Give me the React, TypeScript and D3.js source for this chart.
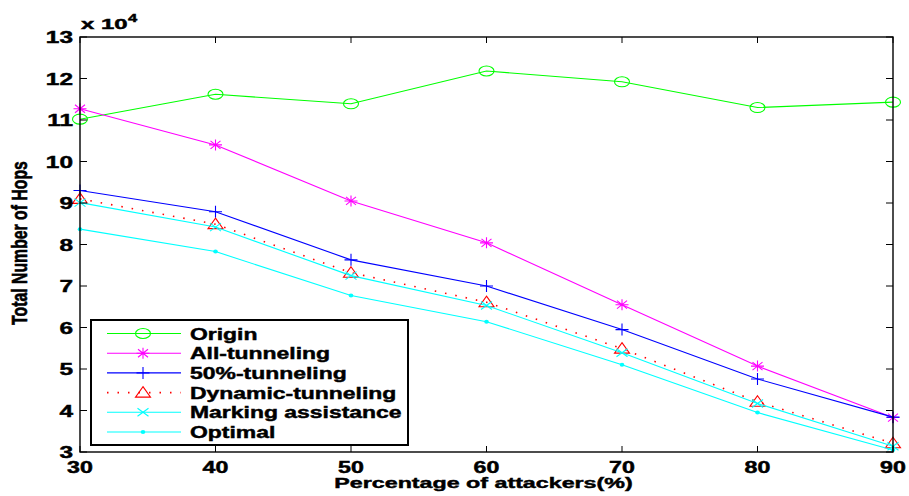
import React from "react";
import * as d3 from "d3";

// Percentage of attackers (x) and total hop counts per scheme
const attackers = [30, 40, 50, 60, 70, 80, 90];
const origin = [110200, 116200, 113900, 121800, 119200, 113000, 114300];
const allTunneling = [112700, 104000, 90500, 80400, 65500, 50700, 38300];
const halfTunneling = [93000, 87900, 76300, 70000, 59500, 47600, 38400];
const dynamicTunneling = [91000, 84900, 73200, 66100, 54900, 42100, 32100];
const markingAssistance = [90100, 84200, 72500, 65300, 53900, 41700, 31400];
const optimal = [83700, 78300, 67700, 61400, 51000, 39500, 30500];

const xTicks = [30, 40, 50, 60, 70, 80, 90];
const yTicks = [30000, 40000, 50000, 60000, 70000, 80000, 90000, 100000, 110000, 120000, 130000];

const seriesNames = ["Origin", "All-tunneling", "50%-tunneling", "Dynamic-tunneling", "Marking assistance", "Optimal"];
const seriesValues = [origin, allTunneling, halfTunneling, dynamicTunneling, markingAssistance, optimal];
const seriesColors = ["#00ff00", "#ff00ff", "#0000ff", "#ff0000", "#00ffff", "#00ffff"];
const seriesMarkers = ["circle", "star", "plus", "triangle", "cross", "dot"];
const seriesDash = ["", "", "", "1.5 9", "", ""];

const W = 909;
const H = 496;
const plot = { left: 80, right: 893, top: 37, bottom: 452 };
const FONT = "'Liberation Sans', Arial, Helvetica, sans-serif";

const x = d3.scaleLinear().domain([30, 90]).range([plot.left, plot.right]);
const y = d3.scaleLinear().domain([30000, 130000]).range([plot.bottom, plot.top]);

function Marker({ kind, cx, cy, color }: { kind: string; cx: number; cy: number; color: string }) {
  const common = { stroke: color, strokeWidth: 1.1, fill: "none" };
  switch (kind) {
    case "circle":
      return <ellipse cx={cx} cy={cy} rx={7.5} ry={5} {...common} />;
    case "star":
      return (
        <path
          d={`M${cx - 6.5},${cy}H${cx + 6.5}M${cx},${cy - 5.5}V${cy + 5.5}M${cx - 5},${cy - 4}L${cx + 5},${cy + 4}M${cx - 5},${cy + 4}L${cx + 5},${cy - 4}`}
          {...common}
        />
      );
    case "plus":
      return <path d={`M${cx - 6.5},${cy}H${cx + 6.5}M${cx},${cy - 6}V${cy + 6}`} {...common} />;
    case "triangle":
      return <path d={`M${cx},${cy - 6}L${cx + 7.5},${cy + 4.5}L${cx - 7.5},${cy + 4.5}Z`} {...common} />;
    case "cross":
      return <path d={`M${cx - 5.5},${cy - 4}L${cx + 5.5},${cy + 4}M${cx - 5.5},${cy + 4}L${cx + 5.5},${cy - 4}`} {...common} />;
    case "dot":
      return <ellipse cx={cx} cy={cy} rx={2.3} ry={2} fill={color} stroke="none" />;
    default:
      return null;
  }
}

function SText({
  x: tx,
  y: ty,
  sx,
  size,
  anchor = "start",
  rotate = 0,
  children,
}: {
  x: number;
  y: number;
  sx: number;
  size: number;
  anchor?: string;
  rotate?: number;
  children: React.ReactNode;
}) {
  return (
    <text
      transform={`translate(${tx},${ty}) scale(${sx},1) rotate(${rotate})`}
      fontSize={size}
      fontWeight="bold"
      fontFamily={FONT}
      textAnchor={anchor}
      fill="#000"
      stroke="#000"
      strokeWidth={0.45}
    >
      {children}
    </text>
  );
}

export default function App() {
  const line = d3
    .line<number>()
    .x((_, i) => x(attackers[i]))
    .y((d) => y(d));

  const legend = { left: 91, top: 320, right: 408, bottom: 445 };
  const rowY = (i: number) => 333.5 + i * 19.7;

  return (
    <svg width={W} height={H} style={{ position: "absolute", left: 0, top: 0, background: "#fff" }}>
      <rect x={0} y={0} width={W} height={H} fill="#fff" />

      {/* series lines and markers */}
      {seriesValues.map((vals, s) => (
        <g key={seriesNames[s]}>
          <path
            d={line(vals) || ""}
            fill="none"
            stroke={seriesColors[s]}
            strokeWidth={s === 3 ? 1.6 : 1.1}
            strokeDasharray={seriesDash[s] || undefined}
          />
          {vals.map((v, i) => (
            <Marker key={i} kind={seriesMarkers[s]} cx={x(attackers[i])} cy={y(v)} color={seriesColors[s]} />
          ))}
        </g>
      ))}

      {/* axes box */}
      <rect
        x={plot.left}
        y={plot.top}
        width={plot.right - plot.left}
        height={plot.bottom - plot.top}
        fill="none"
        stroke="#000"
        strokeWidth={1.4}
      />
      {xTicks.map((t) => (
        <g key={`xt${t}`}>
          <line x1={x(t)} x2={x(t)} y1={plot.bottom} y2={plot.bottom - 6} stroke="#000" strokeWidth={1} />
          <line x1={x(t)} x2={x(t)} y1={plot.top} y2={plot.top + 6} stroke="#000" strokeWidth={1} />
          <SText x={x(t)} y={473} sx={1.45} size={16} anchor="middle">
            {t}
          </SText>
        </g>
      ))}
      {yTicks.map((t) => (
        <g key={`yt${t}`}>
          <line x1={plot.left} x2={plot.left + 7} y1={y(t)} y2={y(t)} stroke="#000" strokeWidth={1} />
          <line x1={plot.right} x2={plot.right - 7} y1={y(t)} y2={y(t)} stroke="#000" strokeWidth={1} />
          <SText x={73} y={y(t) + 6} sx={1.48} size={16.5} anchor="end">
            {t / 10000}
          </SText>
        </g>
      ))}

      {/* exponent label */}
      <SText x={81} y={29} sx={1.65} size={14.5}>
        x 10
      </SText>
      <SText x={128} y={22} sx={1.5} size={11}>
        4
      </SText>

      {/* axis titles */}
      <SText x={(plot.left + plot.right) / 2 - 3} y={488} sx={1.5} size={15.5} anchor="middle">
        Percentage of attackers(%)
      </SText>
      <SText x={27} y={243} sx={1.4} size={15.8} anchor="middle" rotate={-90}>
        Total Number of Hops
      </SText>

      {/* legend */}
      <rect
        x={legend.left}
        y={legend.top}
        width={legend.right - legend.left}
        height={legend.bottom - legend.top}
        fill="#fff"
        stroke="#000"
        strokeWidth={2}
      />
      {seriesNames.map((name, i) => (
        <g key={`lg${name}`}>
          <line
            x1={107}
            x2={181}
            y1={rowY(i)}
            y2={rowY(i)}
            stroke={seriesColors[i]}
            strokeWidth={i === 3 ? 1.6 : 1.1}
            strokeDasharray={seriesDash[i] || undefined}
          />
          <Marker kind={seriesMarkers[i]} cx={143} cy={rowY(i)} color={seriesColors[i]} />
          <SText x={190} y={rowY(i) + 6} sx={1.39} size={16.5}>
            {name}
          </SText>
        </g>
      ))}
    </svg>
  );
}
